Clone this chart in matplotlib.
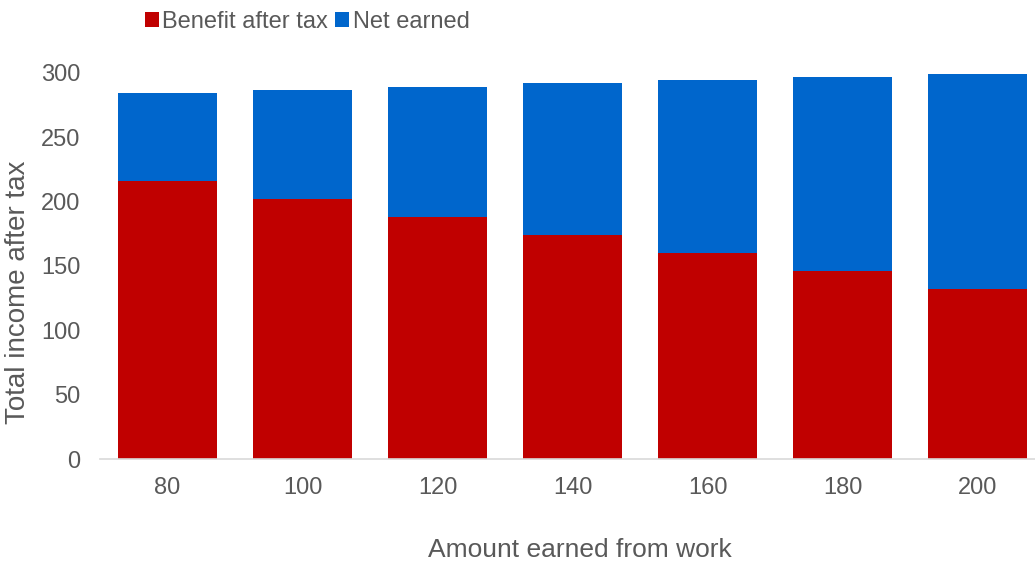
import matplotlib.pyplot as plt
import numpy as np

plt.rcParams['font.family'] = ['Liberation Sans', 'DejaVu Sans']

earned = ['80', '100', '120', '140', '160', '180', '200']
benefit = [216, 202, 188, 174, 160, 146, 132]
net_earned = [68.5, 85, 101.5, 118, 134.5, 151, 167.5]

red = '#C00000'
blue = '#0066CC'
grey = '#595959'

fig = plt.figure(figsize=(10.35, 5.62), dpi=100)
ax = fig.add_axes([100 / 1035, 103 / 562, 945 / 1035, 386 / 562])

x = np.arange(len(earned))
ax.bar(x, benefit, width=0.73, color=red, label='Benefit after tax')
ax.bar(x, net_earned, width=0.73, bottom=benefit, color=blue, label='Net earned')

ax.set_xlim(-0.5, len(earned) - 0.5)
ax.set_ylim(0, 300)
ax.set_yticks(range(0, 301, 50))
ax.set_xticks(x)
ax.set_xticklabels(earned)

for s in ['top', 'right', 'left']:
    ax.spines[s].set_visible(False)
ax.spines['bottom'].set_color('#D9D9D9')
ax.spines['bottom'].set_linewidth(1.2)
ax.tick_params(axis='both', length=0, labelsize=17, colors=grey)
ax.tick_params(axis='x', pad=13)
ax.tick_params(axis='y', pad=14)

ax.set_xlabel('Amount earned from work', fontsize=19, color=grey, va='center', ha='center')
ax.set_ylabel('Total income after tax', fontsize=20, color=grey, va='center', ha='center')
ax.xaxis.set_label_coords(0.508, -0.236)
ax.yaxis.set_label_coords(-0.087, 0.433)

fig.legend(loc='upper left', bbox_to_anchor=(128 / 1035, 1.01), ncol=2, frameon=False,
           fontsize=17, labelcolor=grey, handlelength=0.6, handleheight=0.6,
           handletextpad=0.15, columnspacing=0.3, borderaxespad=0.3)

fig.savefig('out.png', dpi=100)
